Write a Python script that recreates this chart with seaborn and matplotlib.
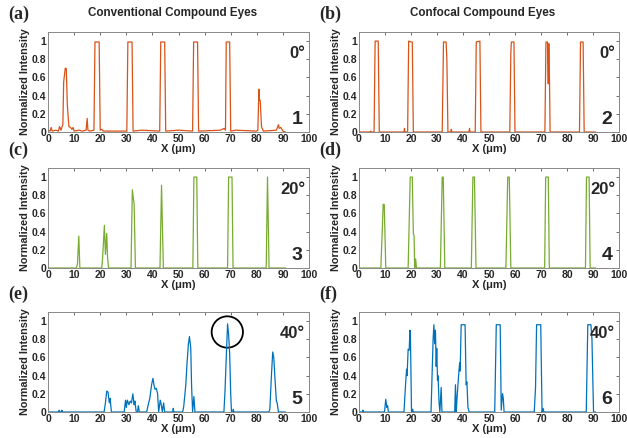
import numpy as np
import pandas as pd
import seaborn as sns
import matplotlib.pyplot as plt
from matplotlib.patches import Ellipse

# ---- data: (x, intensity) breakpoints ----
a_x = [0, 0.8, 1.2, 1.6, 3, 4, 4.4, 5, 5.4, 5.7, 6.0, 6.6, 7.0, 7.4, 8, 8.6, 9.2, 9.6, 10, 12, 13, 14.6,
       15.0, 15.3, 16, 17.6, 18.0, 19.6, 20.0, 20.6, 21.2, 22, 30.2, 30.6, 32.2, 32.6, 36, 42.8, 43.2, 44.7,
       45.1, 50, 55.4, 55.8, 57.3, 57.7, 66, 67.5, 68.0, 68.3, 69.6, 70.0, 72, 79.8, 80.4, 80.8, 81.0,
       81.3, 81.8, 82.5, 87.5, 88.3, 88.6, 89.2, 90, 90.6, 91]
a_y = [0.02, 0.01, 0.05, 0.01, 0.02, 0.01, 0.06, 0.02, 0.06, 0.08, 0.55, 0.7, 0.7, 0.3, 0.06, 0.05,
       0.03, 0.05, 0.01, 0.02, 0.01, 0.02, 0.15, 0.02, 0.01, 0.02, 0.99, 0.99, 0.02, 0.03, 0.01, 0.01,
       0.01, 0.99, 0.99, 0.01, 0.02, 0.01, 0.99, 0.99, 0.01, 0.02, 0.01, 0.99, 0.99, 0.01, 0.02, 0.04,
       0.02, 0.99, 0.99, 0.01, 0.02, 0.01, 0.02, 0.47, 0.35, 0.35, 0.06, 0.01, 0.02, 0.08, 0.04, 0.05,
       0.01, 0.0, 0.0]

b_x = [0, 4.3, 4.5, 4.7, 5.8, 6.2, 7.4, 7.8, 17.3, 17.5, 17.7, 18.7, 19.1, 20.1, 20.5, 20.9, 32.0,
       32.5, 33.5, 33.8, 34.2, 35.3, 35.5, 35.7, 42.3, 42.5, 42.7, 44.7, 45.1, 46.5, 46.9, 58.0, 58.4,
       58.6, 59.6, 60.0, 71.5, 71.9, 72.5, 72.8, 72.9, 73.1, 73.5, 84.8, 85.2, 86.2, 86.6, 91]
b_y = [0, 0, 0.01, 0, 0, 1.0, 1.0, 0, 0, 0.04, 0, 0, 1.0, 0.99, 0.99, 0, 0, 0.99, 0.99, 0.8, 0, 0,
       0.03, 0, 0, 0.04, 0, 0, 0.99, 1.0, 0, 0, 0.87, 0.99, 0.99, 0, 0, 0.99, 0.99, 0.53, 0.97, 0.97, 0,
       0, 0.99, 0.99, 0, 0]

c_x = [0, 10.9, 11.3, 11.8, 12.2, 20.6, 20.9, 21.6, 22.0, 22.5, 22.8, 23.2, 31.8, 32.3, 33.0, 33.5,
       42.9, 43.5, 44.2, 55.5, 55.9, 57.0, 57.4, 68.8, 69.2, 70.5, 70.9, 83.6, 84.1, 84.7, 91]
c_y = [0, 0, 0.05, 0.35, 0, 0, 0.1, 0.47, 0.15, 0.38, 0.12, 0, 0, 0.86, 0.7, 0, 0, 0.91, 0, 0, 1.0,
       1.0, 0, 0, 1.0, 1.0, 0, 0, 1.0, 0, 0]

d_x = [0, 8.4, 8.8, 9.3, 9.7, 10.3, 18.9, 19.7, 20.5, 20.9, 21.2, 21.4, 21.8, 22.1, 31.3, 32.0, 32.4,
       33.0, 43.2, 43.8, 44.4, 45.0, 56.5, 57.2, 57.8, 58.4, 71.4, 71.8, 72.8, 73.2, 87.1, 87.5, 88.5,
       88.9, 91]
d_y = [0, 0, 0.3, 0.7, 0.7, 0, 0, 1.0, 1.0, 0.38, 0.35, 0, 0.1, 0, 0, 1.0, 1.0, 0, 0, 1.0, 1.0, 0, 0,
       1.0, 1.0, 0, 0, 1.0, 1.0, 0, 0, 1.0, 1.0, 0, 0]

e_x = [0, 4.1, 4.3, 4.5, 5.1, 5.3, 5.5, 21.5, 22.0, 22.5, 23.0, 23.5, 23.8, 24.3, 29.2, 29.7, 30.0,
       30.4, 31.0, 31.5, 32.0, 32.5, 33.0, 33.3, 33.8, 34.3, 34.6, 35.0, 37.8, 38.4, 39.0, 39.7, 40.2,
       40.6, 41.0, 41.5, 42.0, 42.4, 43.0, 43.4, 43.8, 44.3, 44.7, 47.8, 48.0, 48.2, 51.6, 52.0, 52.8,
       53.3, 53.8, 54.2, 54.7, 55.0, 55.4, 55.9, 56.3, 67.4, 67.8, 68.3, 68.8, 69.2, 69.6, 70.0, 70.3,
       70.8, 71.0, 71.2, 84.6, 85.0, 85.6, 86.1, 86.5, 87.0, 87.5, 87.8, 88.3, 91]
e_y = [0, 0, 0.02, 0, 0, 0.02, 0, 0, 0.1, 0.23, 0.22, 0.1, 0.15, 0, 0, 0.13, 0.05, 0.13, 0.08, 0.12,
       0.1, 0.2, 0.08, 0.12, 0, 0, 0.07, 0, 0, 0.08, 0.15, 0.3, 0.37, 0.3, 0.25, 0.26, 0.2, 0, 0.13,
       0.08, 0, 0.1, 0, 0, 0.04, 0, 0, 0.06, 0.3, 0.55, 0.75, 0.83, 0.7, 0.3, 0, 0.17, 0, 0, 0.22, 0.6,
       0.97, 0.85, 0.65, 0.2, 0, 0, 0.03, 0, 0, 0.03, 0.4, 0.66, 0.6, 0.35, 0.12, 0.1, 0, 0]

f_x = [0, 1.3, 1.5, 1.7, 9.8, 10.3, 10.7, 11.0, 11.3, 17.3, 17.9, 18.3, 18.5, 18.9, 19.3, 19.6, 19.8,
       20.2, 20.6, 20.9, 27.7, 28.2, 28.5, 28.8, 29.1, 29.4, 29.7, 29.9, 30.2, 30.4, 30.8, 31.1, 31.6,
       31.9, 36.8, 37.1, 37.4, 37.7, 38.3, 38.7, 38.9, 39.3, 40.8, 41.2, 41.5, 41.9, 42.4, 52.2, 52.8,
       54.3, 54.7, 55.2, 55.5, 55.8, 67.4, 67.9, 68.3, 69.9, 70.4, 70.8, 71.1, 87.4, 88.0, 89.2, 89.6,
       90.2, 91]
f_y = [0, 0, 0.02, 0, 0, 0.14, 0.05, 0.07, 0, 0, 0.3, 0.47, 0.4, 0.69, 0.68, 0.9, 0.8, 0, 0.03, 0, 0,
       0.5, 0.8, 0.96, 0.75, 0.9, 0.5, 0.7, 0.35, 0.4, 0.1, 0, 0.27, 0, 0, 0.3, 0, 0.15, 0.4, 0.54, 0.45,
       0.96, 0.96, 0.3, 0.33, 0.05, 0, 0, 0.96, 0.96, 0.02, 0.2, 0.15, 0, 0, 0.27, 0.96, 0.96, 0, 0.04, 0,
       0, 0.96, 0.96, 0.8, 0, 0]

panel_tags = ["(a)", "(b)", "(c)", "(d)", "(e)", "(f)"]
angles = ["0°", "0°", "20°", "20°", "40°", "40°"]
numbers = ["1", "2", "3", "4", "5", "6"]
col_titles = ["Conventional Compound Eyes", "Confocal Compound Eyes"]

orange, green, blue = "#D95319", "#77AC30", "#0072BD"
series = [(a_x, a_y, orange), (b_x, b_y, orange), (c_x, c_y, green),
          (d_x, d_y, green), (e_x, e_y, blue), (f_x, f_y, blue)]

sns.set_style("white")
plt.rcParams["font.family"] = ["Liberation Sans", "DejaVu Sans"]
plt.rcParams["font.weight"] = "bold"

fig = plt.figure(figsize=(6.27, 4.38), dpi=100)

W, H = 627, 438
col_px = [(48, 309), (359, 619)]
row_px = [(32, 132), (168, 268), (312, 412)]

for i, (xs, ys, c) in enumerate(series):
    r, cidx = divmod(i, 2)
    x0, x1 = col_px[cidx]
    y0, y1 = row_px[r]
    ax = fig.add_axes([x0 / W, 1 - y1 / H, (x1 - x0) / W, (y1 - y0) / H])
    df = pd.DataFrame({"x": xs, "y": ys})
    sns.lineplot(data=df, x="x", y="y", ax=ax, color=c, linewidth=0.9,
                 estimator=None, sort=False)
    ax.set_xlim(0, 100)
    ax.set_ylim(0, 1.1)
    ax.set_xticks(np.arange(0, 101, 10))
    ax.set_yticks([0, 0.2, 0.4, 0.6, 0.8, 1])
    ax.set_yticklabels(["0", "0.2", "0.4", "0.6", "0.8", "1"])
    ax.tick_params(direction="in", length=2.5, width=0.6, top=True, right=True,
                   labelsize=7.5, pad=1.5, color="#555555")
    for lab in ax.get_xticklabels() + ax.get_yticklabels():
        lab.set_fontweight("bold")
    for s in ax.spines.values():
        s.set_color("#888888")
        s.set_linewidth(0.7)
    ax.set_xlabel("X (μm)", fontsize=8, fontweight="bold", labelpad=0)
    ax.set_ylabel("Normalized Intensity", fontsize=7.8, fontweight="bold", labelpad=1)
    ax.text(0.985, 0.78, angles[i], transform=ax.transAxes, ha="right", va="center",
            fontsize=12, fontweight="bold")
    ax.text(0.975, 0.13, numbers[i], transform=ax.transAxes, ha="right", va="center",
            fontsize=14, fontweight="bold")
    fig.text((x0 - 40) / W, 1 - (y0 - 18) / H, panel_tags[i], ha="left", va="center",
             fontsize=13, fontweight="bold", family=["Liberation Serif", "DejaVu Serif"])
    if r == 0:
        fig.text((x0 + x1) / 2 / W - 0.01, 1 - 13 / H, col_titles[cidx], ha="center",
                 va="center", fontsize=8.4, fontweight="bold")
    if i == 4:
        ax.add_patch(Ellipse((68.7, 0.88), 12, 0.345, fill=False, edgecolor="black",
                             linewidth=1.3, clip_on=False))

fig.savefig("out.png", dpi=100)
